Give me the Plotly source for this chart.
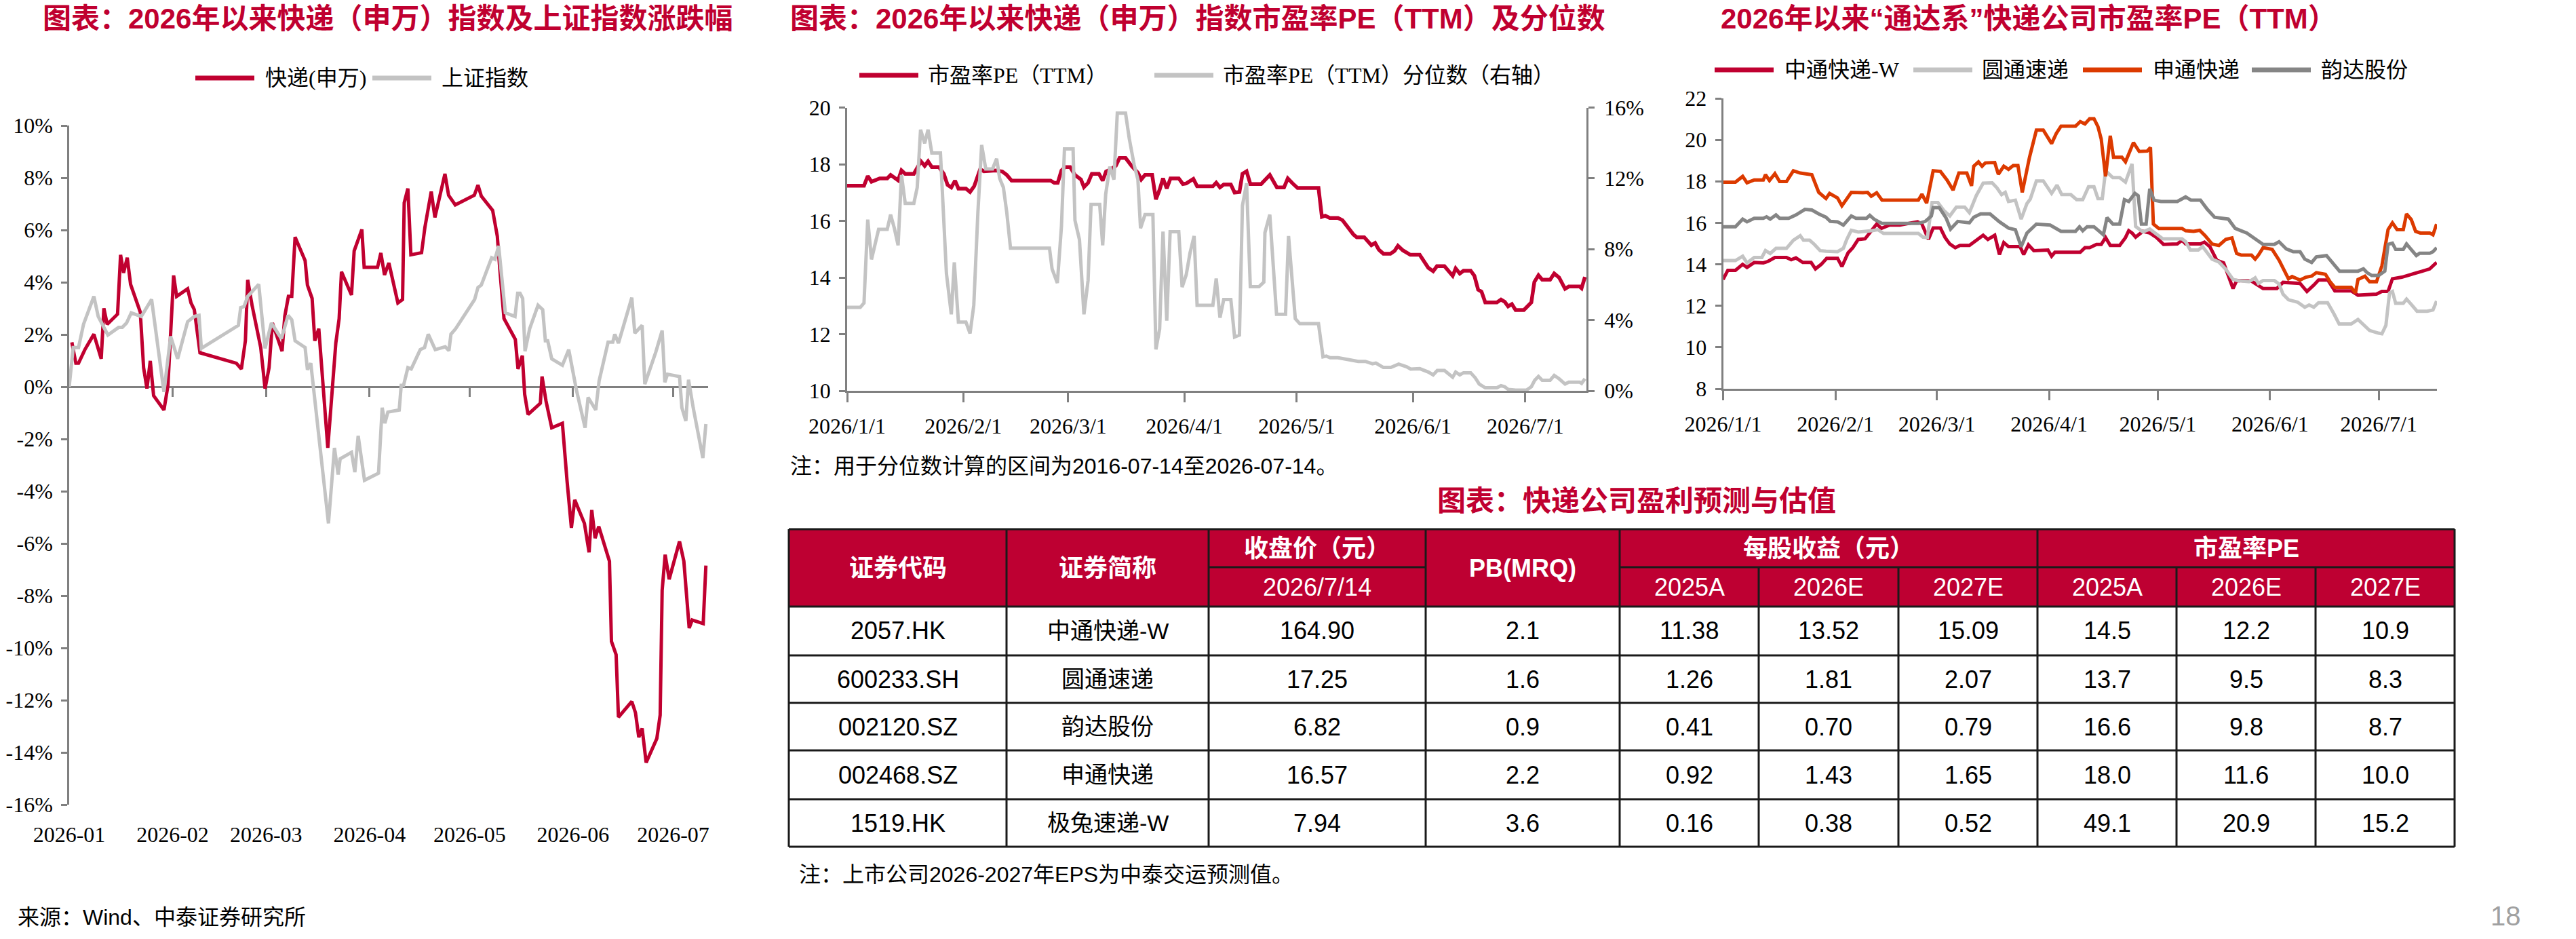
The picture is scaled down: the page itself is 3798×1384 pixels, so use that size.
import plotly.graph_objects as go
from datetime import datetime, timedelta

W, H = 3798, 1384
BASE = datetime(2026, 1, 1)

CRIMSON = "#C00030"
HEAD_RED = "#BE0032"
LIGHT_GRAY = "#C3C3C3"
ORANGE = "#DC3A00"
DARK_GRAY = "#858585"
AXIS = "#808080"
SERIF = "Liberation Serif, Noto Sans CJK SC, serif"
SANS = "Liberation Sans, Noto Sans CJK SC, sans-serif"

# ---------------- data: chart 1 (returns since start of 2026, %) ----------------
# x values are days since 2026-01-01
exp_days = [0.8, 2.0, 2.8, 4.7, 7.4, 9.6, 10.4, 11.4, 14.5, 15.4, 16.3, 17.4, 18.4, 19.6, 21.3, 22.3, 23.3,
            24.3, 25.3, 28.4, 29.6, 31.3, 32.2, 35.5, 36.5, 37.5, 39.2, 50.1, 51.6, 52.8, 53.5, 54.8, 56.2,
            57.4, 58.7, 59.9, 60.9, 63.8, 64.6, 65.7, 66.7, 67.7, 70.7, 71.4, 72.8, 73.6, 74.8, 77.5, 79.9,
            80.9, 81.6, 84.6, 85.4, 87.7, 88.4, 92.4, 93.4, 94.5, 95.8, 98.5, 99.9, 100.4, 101.5, 102.4,
            105.6, 106.6, 108.5, 109.6, 112.6, 113.7, 115.7, 121.4, 122.5, 123.5, 126.9, 128.3, 129.0, 130.3,
            133.7, 134.5, 135.8, 136.5, 137.5, 141.2, 141.7, 142.9, 144.6, 147.8, 149.2, 150.5, 151.5, 154.4,
            155.8, 156.6, 157.6, 158.7, 161.9, 162.5, 163.9, 164.6, 168.6, 169.7, 170.7, 171.7, 172.9, 176.1,
            177.1, 177.7, 178.6, 179.8, 182.9, 184.2, 185.8, 186.7, 190.0, 190.8]
exp_ret = [1.70, 0.90, 0.90, 1.42, 2.01, 1.07, 3.00, 2.39, 2.78, 5.05, 4.36, 4.94, 3.92, 3.46, 2.86, 0.73, -0.07,
           0.99, -0.34, -0.89, 0.05, 4.26, 3.46, 3.75, 3.21, 2.95, 1.30, 0.90, 0.68, 1.76, 4.09, 3.12, 2.18,
           1.50, -0.07, 0.73, 2.44, 1.36, 2.69, 3.46, 3.46, 5.73, 4.83, 3.89, 3.38, 1.76, 2.22, -2.34, 1.67,
           2.61, 4.40, 3.51, 5.20, 6.02, 4.57, 4.57, 5.12, 4.28, 4.74, 3.21, 3.34, 7.04, 7.59, 5.05,
           5.13, 6.10, 7.47, 6.48, 8.15, 7.33, 6.96, 7.33, 7.72, 7.30, 6.75, 5.76, 4.57, 2.61,
           1.81, 0.68, 1.19, -0.29, -1.06, -0.63, 0.39, -0.55, -1.57, -1.40, -3.61, -5.40, -4.33, -5.23,
           -6.34, -4.72, -5.80, -5.35, -6.68, -9.75, -10.26, -12.65, -12.05, -12.48, -13.42, -13.08, -14.39, -13.47,
           -12.57, -7.79, -6.43, -7.37, -5.92, -6.68, -9.24, -8.93, -9.07, -6.85]

sh_days = [0.0, 1.2, 2.8, 4.3, 7.4, 8.7, 11.6, 14.8, 15.9, 17.2, 18.6, 21.6, 24.7, 28.4, 30.4, 32.5, 35.5, 37.5,
           38.9, 39.6, 50.7, 51.4, 52.4, 53.5, 56.8, 58.7, 60.6, 63.6, 65.6, 66.7, 67.7, 70.7, 71.4, 72.4, 77.7,
           79.5, 80.6, 81.2, 84.6, 85.6, 86.6, 88.5, 92.7, 93.8, 94.6, 95.5, 98.9, 99.5, 100.2, 101.5, 102.5,
           105.2, 106.5, 107.6, 109.7, 112.7, 113.8, 114.4, 115.8, 121.5, 122.5, 123.5, 126.6, 127.6, 128.7,
           129.3, 130.7, 133.6, 134.4, 135.1, 135.9, 136.6, 138.0, 140.5, 141.9, 142.7, 143.4, 144.6, 147.8,
           149.7, 152.0, 154.6, 155.5, 157.8, 158.8, 161.5, 162.9, 163.5, 164.6, 168.6, 169.5, 171.7, 172.5,
           175.8, 177.7, 178.5, 179.3, 182.9, 183.6, 184.8, 185.6, 187.0, 189.9, 190.8]
sh_ret = [0.00, 1.50, 1.50, 2.39, 3.46, 2.69, 1.98, 2.27, 2.27, 2.44, 2.83, 2.69, 3.34, -0.20, 1.93, 1.07, 2.49, 2.69,
          2.73, 1.47, 2.35, 3.03, 3.07, 3.46, 3.92, 1.47, 2.44, 1.84, 2.73, 2.56, 1.76, 1.50, 0.65, 0.90, -5.23,
          -2.34, -3.36, -2.76, -2.51, -3.27, -1.88, -3.58, -3.31, -0.80, -1.40, -0.97, -0.89, 0.05, 0.05, 0.73, 0.68,
          1.42, 1.50, 2.01, 1.42, 1.53, 1.38, 2.01, 2.22, 3.34, 3.80, 3.89, 4.94, 4.88, 5.39,
          4.57, 2.83, 2.69, 3.58, 3.58, 3.38, 1.36, 2.22, 3.12, 2.95, 1.76, 1.76, 1.07, 0.82,
          1.42, -0.12, -1.57, -0.41, -0.89, 0.22, 1.71, 1.71, 2.01, 1.67, 3.41, 2.05, 2.35, 0.10,
          1.33, 2.15, 0.17, 0.48, 0.39, -0.80, -1.31, 0.27, -0.80, -2.73, -1.43]

# ---------------- data: chart 2 (PE TTM and percentile) ----------------
pe_days = [0.0, 4.5, 5.5, 6.5, 8.7, 10.7, 11.6, 13.6, 14.5, 15.5, 17.8, 19.7, 20.7, 21.6, 22.6, 24.5, 25.8, 26.8,
           27.8, 28.8, 29.7, 31.7, 32.8, 33.9, 35.5, 36.5, 39.7, 41.4, 42.6, 43.9, 54.3, 55.3, 56.2, 57.2, 58.2,
           59.5, 60.8, 62.4, 63.2, 64.3, 65.3, 67.2, 68.2, 69.1, 70.4, 71.7, 72.7, 74.3, 75.9, 77.6, 78.5, 79.5,
           81.4, 82.4, 83.4, 84.3, 85.3, 86.3, 88.5, 89.6, 90.5, 92.4, 93.4, 97.6, 98.5, 99.5, 100.5, 102.4,
           103.4, 104.7, 105.5, 106.6, 107.6, 110.5, 112.8, 114.7, 116.6, 117.6, 118.9, 120.2, 125.8, 126.7,
           127.6, 128.8, 131.0, 132.2, 135.1, 136.0, 138.0, 139.9, 140.9, 141.9, 143.1, 145.0, 146.1, 147.0,
           148.3, 150.3, 152.8, 153.8, 155.1, 156.4, 157.4, 159.4, 161.6, 162.4, 163.5, 164.5, 166.4, 167.4,
           168.4, 169.3, 170.3, 173.4, 174.5, 175.5, 176.4, 177.4, 178.4, 180.6, 182.6, 183.4, 184.5, 185.5,
           187.6, 188.7, 190.0, 191.6, 192.6, 195.5, 196.0, 196.9]
pe_vals = [17.24, 17.24, 17.58, 17.38, 17.50, 17.50, 17.62, 17.43, 17.78, 17.66, 17.66, 18.10, 17.94, 18.10, 17.90,
           17.90, 17.66, 17.27, 17.18, 17.42, 17.14, 17.14, 17.02, 17.22, 17.82, 17.75, 17.78, 17.74, 17.62, 17.42,
           17.42, 17.34, 17.34, 17.78, 17.90, 17.90, 17.62, 17.46, 17.19, 17.34, 17.66, 17.66, 17.42, 17.74, 17.82,
           17.94, 18.22, 18.22, 17.94, 17.70, 17.46, 17.62, 17.62, 16.76, 17.10, 17.50, 17.14, 17.50, 17.50, 17.30,
           17.32, 17.48, 17.22, 17.22, 17.35, 17.18, 17.28, 17.28, 17.00, 17.02, 17.66, 17.75, 17.30, 17.30, 17.62,
           17.18, 17.18, 17.50, 17.32, 17.16, 17.16, 16.14, 16.18, 16.10, 16.10, 16.02, 15.52, 15.42, 15.42, 15.14,
           15.22, 14.98, 14.84, 14.84, 14.94, 15.12, 14.96, 14.80, 14.80, 14.58, 14.34, 14.22, 14.40, 14.40, 14.06,
           14.32, 14.14, 14.24, 14.24, 14.06, 13.57, 13.50, 13.12, 13.12, 13.22, 13.14, 12.98, 13.06, 12.85, 12.85,
           13.12, 13.84, 14.08, 13.92, 13.92, 14.14, 14.00, 13.60, 13.68, 13.68, 13.62, 14.02]

pct_days = [0.0, 3.5, 4.5, 5.5, 6.5, 8.4, 10.7, 11.6, 12.6, 13.6, 14.5, 15.5, 17.8, 18.7, 19.6, 20.7, 21.6, 22.6,
            24.9, 26.5, 27.8, 28.6, 29.7, 31.7, 32.8, 33.8, 34.9, 35.9, 37.0, 38.8, 39.9, 40.7, 41.7, 42.6, 43.6,
            54.0, 54.7, 56.1, 57.2, 58.0, 60.3, 60.8, 62.0, 63.2, 64.3, 65.1, 67.4, 68.2, 69.0, 70.1, 71.2, 72.1,
            74.3, 75.3, 76.6, 77.6, 78.3, 79.5, 81.6, 82.4, 83.4, 84.3, 85.3, 86.2, 88.5, 89.4, 90.5, 91.5, 92.6,
            93.4, 97.6, 98.5, 99.5, 100.5, 102.4, 103.4, 104.7, 105.5, 106.6, 107.6, 109.9, 111.2, 111.5, 112.8,
            114.6, 117.0, 117.8, 119.6, 120.8, 125.8, 127.0, 127.9, 128.9, 131.0, 133.5, 136.4, 138.3, 140.2,
            141.1, 143.1, 145.1, 147.2, 149.3, 150.4, 152.8, 155.1, 156.4, 157.5, 159.4, 161.6, 162.4, 163.5,
            164.5, 166.4, 167.6, 168.7, 170.3, 173.4, 174.5, 175.5, 176.4, 178.4, 181.3, 182.6, 183.5, 184.5,
            185.5, 187.6, 188.7, 190.0, 191.6, 192.6, 195.5, 196.0, 196.9]
pct_vals = [4.71, 4.71, 4.96, 9.67, 7.42, 9.12, 9.12, 9.95, 9.18, 8.22, 12.19, 10.59, 10.59, 11.48, 14.75, 13.98,
            14.75, 13.43, 13.43, 6.63, 4.32, 7.26, 3.88, 3.88, 3.24, 4.83, 10.08, 13.89, 12.53, 12.53, 13.11, 12.00,
            11.49, 10.08, 8.06, 8.06, 6.88, 6.09, 9.31, 13.66, 13.66, 9.63, 8.54, 4.32, 6.24, 10.53, 10.53, 8.22,
            11.10, 12.66, 11.93, 15.68, 15.68, 14.24, 12.76, 11.93, 9.18, 9.95, 9.95, 2.34, 3.49, 8.99, 3.96, 8.99,
            8.99, 5.86, 6.56, 7.78, 8.74, 4.83, 4.83, 6.34, 4.13, 5.15, 5.15, 3.04, 3.15, 10.46, 11.72, 5.88,
            5.88, 6.14, 8.93, 9.95, 4.32, 4.32, 8.74, 4.07, 3.79, 3.79, 1.92, 1.96, 1.87, 1.87, 1.77, 1.66,
            1.66, 1.53, 1.57, 1.32, 1.32, 1.51, 1.36, 1.23, 1.25, 1.06, 0.90, 1.15, 1.15, 0.77, 1.06, 0.90,
            1.02, 1.02, 0.74, 0.38, 0.17, 0.17, 0.29, 0.23, 0.08, 0.04, 0.04, 0.23, 0.59, 0.81, 0.59, 0.59,
            0.87, 0.68, 0.38, 0.49, 0.49, 0.42, 0.68]

# ---------------- data: chart 3 (PE TTM of the four companies) ----------------
zto_days = [0.0, 1.3, 3.4, 5.4, 6.6, 8.6, 11.1, 12.4, 14.3, 17.5, 18.8, 20.1, 22.0, 24.3, 25.5, 27.1, 28.6, 31.6,
            32.8, 34.5, 35.8, 37.3, 39.2, 41.1, 42.4, 43.7, 46.0, 48.8, 53.7, 54.9, 56.7, 58.0, 60.0, 61.3, 62.6,
            64.1, 65.4, 68.0, 69.2, 70.5, 71.8, 73.1, 75.0, 76.3, 77.5, 78.8, 82.0, 83.0, 84.3, 85.8, 88.4, 89.7,
            90.7, 91.6, 98.6, 99.9, 101.2, 103.1, 104.4, 105.6, 106.9, 109.5, 111.1, 112.0, 112.9, 113.9, 115.9,
            117.8, 119.7, 121.6, 125.4, 126.7, 127.7, 131.8, 132.9, 134.4, 136.3, 138.2, 140.8, 141.8, 145.9,
            147.2, 149.1, 152.9, 154.6, 159.3, 161.2, 163.1, 164.4, 167.0, 168.9, 173.4, 175.3, 180.4, 181.9,
            183.6, 184.8, 187.4, 189.3, 191.2, 193.1, 195.1, 197.0]
zto_pe = [13.27, 13.71, 13.71, 14.00, 13.85, 14.09, 14.07, 14.14, 14.33, 14.33, 14.22, 14.31, 14.09, 14.09, 13.78,
          14.00, 14.29, 14.29, 13.89, 14.55, 14.80, 15.20, 15.23, 15.64, 15.94, 15.73, 15.89, 15.89, 16.05, 15.94,
          15.20, 15.75, 15.75, 15.29, 14.98, 14.80, 14.91, 14.91, 15.07, 15.23, 15.40, 15.20, 15.40, 14.47, 15.05,
          14.85, 14.85, 14.47, 14.94, 14.66, 14.66, 14.69, 14.39, 14.58, 14.58, 14.80, 14.80, 14.96, 14.96, 15.29,
          14.91, 14.91, 15.29, 15.62, 15.51, 15.31, 15.59, 15.51, 15.29, 14.96, 14.98, 15.16, 14.98, 14.98, 15.07,
          14.85, 14.20, 14.07, 12.83, 13.22, 13.19, 13.05, 12.83, 12.83, 13.13, 13.08, 12.69, 13.00, 13.24, 13.24,
          12.72, 12.72, 12.51, 12.56, 12.69, 12.69, 13.30, 13.38, 13.49, 13.56, 13.67, 13.78, 14.09]

yto_days = [0.0, 3.4, 5.4, 6.6, 8.6, 10.7, 11.7, 13.0, 14.6, 17.5, 19.4, 21.3, 22.2, 23.9, 25.2, 26.8, 28.4, 31.6,
            33.2, 34.1, 35.4, 37.3, 41.1, 42.7, 44.3, 53.9, 55.2, 56.4, 57.7, 59.3, 60.9, 62.6, 64.4, 66.7, 68.0,
            69.9, 71.8, 74.3, 75.6, 76.9, 77.9, 78.8, 80.7, 82.3, 83.9, 84.8, 86.5, 88.4, 90.7, 92.2, 93.5, 96.0,
            97.6, 99.3, 100.9, 102.4, 103.5, 104.7, 105.6, 107.6, 109.5, 111.1, 112.9, 113.9, 115.9, 117.8, 119.7,
            121.4, 126.7, 127.7, 129.0, 131.2, 132.4, 133.7, 135.0, 136.9, 138.8, 140.8, 142.0, 145.2, 146.9,
            147.8, 149.1, 152.2, 153.5, 154.6, 156.1, 158.6, 160.6, 161.8, 163.1, 164.4, 166.9, 168.6, 170.1,
            173.4, 175.3, 176.8, 178.5, 181.0, 181.9, 183.0, 184.0, 184.8, 185.7, 187.8, 188.7, 190.0, 191.6,
            194.4, 196.0, 197.0]
yto_pe = [14.18, 14.18, 14.39, 14.07, 14.33, 14.33, 14.66, 14.52, 14.77, 14.77, 15.16, 15.38, 15.16, 15.16, 14.96,
          14.66, 14.63, 14.61, 14.77, 15.18, 15.64, 15.56, 15.62, 15.67, 15.49, 15.49, 15.31, 15.29, 16.98, 16.98,
          16.60, 16.33, 16.76, 16.76, 16.49, 17.31, 17.91, 17.93, 17.69, 17.36, 17.47, 17.03, 17.09, 16.18, 16.93,
          17.14, 18.02, 18.02, 17.42, 17.82, 17.36, 17.36, 17.12, 17.12, 17.74, 17.74, 17.17, 17.17, 18.51, 18.18,
          18.18, 17.96, 18.84, 15.83, 15.56, 15.70, 15.45, 15.23, 15.23, 15.09, 14.69, 14.69, 14.85, 14.58, 14.25,
          14.11, 13.76, 13.27, 13.22, 13.16, 13.35, 13.08, 13.22, 13.22, 13.05, 12.56, 12.29, 12.18, 11.93, 12.04,
          11.93, 12.15, 12.15, 11.63, 11.12, 11.12, 11.34, 11.09, 10.81, 10.68, 10.65, 11.06, 12.62, 12.69, 12.12,
          12.12, 12.32, 12.07, 11.74, 11.74, 11.80, 12.23]

sto_days = [0.0, 3.4, 5.4, 6.6, 8.6, 11.1, 11.7, 12.8, 14.3, 15.6, 17.5, 19.4, 21.3, 24.5, 26.4, 28.4, 29.4, 31.6,
            32.8, 35.4, 38.6, 39.9, 40.9, 42.4, 43.9, 53.9, 54.9, 56.2, 58.0, 60.0, 61.8, 63.5, 65.1, 67.3, 68.6,
            69.2, 70.5, 71.5, 72.4, 75.0, 76.0, 77.5, 78.8, 80.1, 81.4, 82.6, 84.6, 86.5, 88.4, 90.7, 92.0, 93.3,
            97.3, 98.6, 99.9, 101.2, 102.4, 103.5, 104.4, 105.6, 106.9, 107.8, 110.1, 111.1, 113.3, 114.9, 117.1,
            118.0, 118.8, 120.3, 126.7, 127.7, 129.9, 131.6, 133.1, 135.0, 136.9, 138.8, 140.5, 141.8, 143.1,
            145.9, 146.9, 147.8, 149.1, 151.6, 153.5, 156.1, 157.1, 159.3, 160.9, 162.5, 163.8, 166.3, 167.6,
            168.9, 173.4, 174.6, 175.3, 177.2, 178.5, 180.4, 181.9, 183.6, 184.8, 186.1, 187.8, 188.7, 190.0,
            191.2, 192.5, 195.1, 196.0, 197.0]
sto_pe = [17.96, 17.96, 18.24, 17.93, 18.07, 18.07, 18.32, 18.04, 18.37, 17.99, 17.99, 18.51, 18.40, 18.32, 17.47,
          17.17, 17.42, 17.20, 16.82, 17.47, 17.45, 17.47, 17.28, 17.45, 17.09, 17.09, 17.38, 16.95, 18.51, 18.48,
          18.07, 17.58, 18.40, 18.40, 17.78, 18.73, 18.94, 18.73, 18.89, 18.91, 18.34, 18.73, 18.58, 18.76, 18.76,
          17.47, 19.16, 20.47, 20.47, 19.82, 20.31, 20.66, 20.66, 20.88, 20.77, 21.02, 21.02, 20.64, 20.04, 18.24,
          20.20, 19.16, 19.16, 18.94, 19.87, 19.44, 19.46, 19.63, 15.94, 15.73, 15.73, 15.62, 15.59, 15.64, 15.38,
          14.98, 14.91, 15.20, 15.27, 14.52, 14.44, 14.44, 14.25, 14.44, 14.80, 14.72, 14.20, 13.30, 13.41, 13.24,
          13.38, 13.43, 13.60, 13.52, 13.16, 12.89, 12.89, 12.62, 13.27, 13.43, 13.16, 13.16, 13.93, 15.67, 16.00,
          15.67, 15.67, 16.43, 16.16, 15.59, 15.51, 15.51, 15.42, 15.94]

yd_days = [0.0, 3.4, 5.4, 6.6, 8.6, 11.1, 12.0, 13.0, 14.6, 15.6, 18.1, 20.1, 22.6, 24.5, 26.4, 28.4, 29.6, 31.6,
           33.2, 35.4, 36.7, 39.6, 40.5, 41.8, 43.9, 53.9, 55.8, 57.5, 58.0, 59.7, 61.6, 62.8, 64.8, 68.0, 69.2,
           71.1, 73.7, 76.3, 78.8, 80.7, 82.3, 83.9, 86.5, 90.3, 93.3, 97.3, 98.4, 99.3, 100.5, 102.4, 103.7,
           105.0, 106.0, 107.6, 109.5, 110.8, 112.0, 113.7, 114.6, 115.5, 116.8, 117.8, 119.0, 120.9, 125.4,
           127.7, 129.2, 131.8, 133.7, 135.7, 139.5, 141.4, 144.6, 147.2, 149.1, 152.2, 153.5, 155.5, 157.4,
           159.3, 160.6, 162.5, 163.8, 166.6, 168.2, 170.2, 175.3, 176.8, 177.8, 179.1, 181.0, 182.7, 183.6,
           184.8, 185.7, 187.8, 188.7, 190.0, 191.4, 192.3, 195.1, 196.0, 197.0]
yd_pe = [15.81, 15.81, 16.18, 16.05, 16.22, 16.22, 16.29, 16.18, 16.38, 16.22, 16.22, 16.38, 16.65, 16.62, 16.43,
         16.27, 16.07, 16.05, 15.89, 16.33, 16.22, 16.22, 16.36, 16.16, 15.97, 15.97, 16.07, 16.33, 16.73, 16.73,
         16.22, 15.70, 16.07, 16.00, 16.27, 16.43, 16.43, 16.05, 15.75, 15.67, 14.85, 15.51, 15.94, 15.89, 15.59,
         15.59, 15.81, 15.62, 15.81, 15.81, 15.62, 15.42, 16.25, 15.94, 15.94, 17.12, 17.03, 17.42, 17.31, 15.94,
         15.94, 17.64, 17.09, 17.03, 17.03, 17.25, 17.09, 17.09, 16.65, 16.27, 16.18, 15.73, 15.51, 15.20, 14.96,
         14.96, 15.09, 14.74, 14.61, 14.61, 14.25, 14.09, 14.36, 14.42, 14.09, 13.67, 13.67, 13.78, 13.60, 13.46,
         13.46, 13.67, 14.96, 15.02, 14.72, 14.72, 14.98, 14.72, 14.42, 14.53, 14.53, 14.61, 14.80]

# ---------------- data: table ----------------
codes = ["2057.HK", "600233.SH", "002120.SZ", "002468.SZ", "1519.HK"]
names = ["中通快递-W", "圆通速递", "韵达股份", "申通快递", "极兔速递-W"]
close_px = [164.90, 17.25, 6.82, 16.57, 7.94]
pb_mrq = [2.1, 1.6, 0.9, 2.2, 3.6]
eps_2025a = [11.38, 1.26, 0.41, 0.92, 0.16]
eps_2026e = [13.52, 1.81, 0.70, 1.43, 0.38]
eps_2027e = [15.09, 2.07, 0.79, 1.65, 0.52]
pe_2025a = [14.5, 13.7, 16.6, 18.0, 49.1]
pe_2026e = [12.2, 9.5, 9.8, 11.6, 20.9]
pe_2027e = [10.9, 8.3, 8.7, 10.0, 15.2]
year_cols = ["2025A", "2026E", "2027E"]

# ---------------- tick labels ----------------
month_starts = ["2026-01-01", "2026-02-01", "2026-03-01", "2026-04-01", "2026-05-01", "2026-06-01", "2026-07-01"]
dash_labels = ["2026-01", "2026-02", "2026-03", "2026-04", "2026-05", "2026-06", "2026-07"]
slash_labels = ["2026/1/1", "2026/2/1", "2026/3/1", "2026/4/1", "2026/5/1", "2026/6/1", "2026/7/1"]
ret_ticks = [10, 8, 6, 4, 2, 0, -2, -4, -6, -8, -10, -12, -14, -16]
ret_labels = ["10%", "8%", "6%", "4%", "2%", "0%", "-2%", "-4%", "-6%", "-8%", "-10%", "-12%", "-14%", "-16%"]
pe_ticks = [10, 12, 14, 16, 18, 20]
pct_ticks = [0, 4, 8, 12, 16]
pct_labels = ["0%", "4%", "8%", "12%", "16%"]
co_ticks = [8, 10, 12, 14, 16, 18, 20, 22]


def dates(days):
    return [(BASE + timedelta(days=d)).strftime("%Y-%m-%d %H:%M:%S") for d in days]


def dstr(d):
    return (BASE + timedelta(days=d)).strftime("%Y-%m-%d %H:%M:%S")


def X(p):
    return p / W


def Y(p):
    return 1 - p / H


fig = go.Figure()
ln = dict(mode="lines", showlegend=False, hoverinfo="skip")
fig.add_trace(go.Scatter(x=dates(exp_days), y=exp_ret, name="快递(申万)", line=dict(color=CRIMSON, width=5),
                         xaxis="x", yaxis="y", **ln))
fig.add_trace(go.Scatter(x=dates(sh_days), y=sh_ret, name="上证指数", line=dict(color=LIGHT_GRAY, width=5),
                         xaxis="x2", yaxis="y", **ln))
fig.add_trace(go.Scatter(x=dates(pe_days), y=pe_vals, name="市盈率PE（TTM）", line=dict(color=CRIMSON, width=5.5),
                         xaxis="x3", yaxis="y3", **ln))
fig.add_trace(go.Scatter(x=dates(pct_days), y=pct_vals, name="分位数", line=dict(color=LIGHT_GRAY, width=5),
                         xaxis="x3", yaxis="y4", **ln))
co_series = [("中通快递-W", zto_days, zto_pe, CRIMSON), ("圆通速递", yto_days, yto_pe, LIGHT_GRAY),
             ("申通快递", sto_days, sto_pe, ORANGE), ("韵达股份", yd_days, yd_pe, DARK_GRAY)]
for nm, dd, vv, col in co_series:
    fig.add_trace(go.Scatter(x=dates(dd), y=vv, name=nm, line=dict(color=col, width=5),
                             xaxis="x4", yaxis="y5", **ln))

tickfont = dict(family=SERIF, size=32, color="black")
axcommon = dict(showgrid=False, zeroline=False, tickfont=tickfont, linecolor=AXIS, linewidth=2.5,
                tickcolor=AXIS, tickwidth=2.5, automargin=False)
axnoline = {k: v for k, v in axcommon.items() if k not in ("linecolor", "linewidth")}

# chart 1 geometry
c1_dom = [X(102), X(102 + 191.5 * 4.92)]
c1_range = [dstr(0), dstr(191.5)]
c1_ydom = [Y(1186), Y(185)]
zero_pos = c1_ydom[0] + (0 - (-16)) / 26 * (c1_ydom[1] - c1_ydom[0])

fig.update_layout(
    xaxis=dict(domain=c1_dom, type="date", range=c1_range, anchor="y", showline=False, ticks="",
               tickvals=month_starts, ticktext=dash_labels, ticklabelstandoff=22, **axnoline),
    xaxis2=dict(domain=c1_dom, type="date", range=c1_range, overlaying="x", anchor="free", position=zero_pos,
                showline=True, ticks="outside", ticklen=13, tickvals=month_starts[1:], showticklabels=False,
                layer="below traces", **axcommon),
    yaxis=dict(domain=c1_ydom, range=[-16, 10], anchor="x", showline=True, ticks="outside", ticklen=9,
               tickvals=ret_ticks, ticktext=ret_labels, ticklabelstandoff=6, **axcommon),
    xaxis3=dict(domain=[X(1249), X(2339)], type="date", range=[dstr(0), dstr(197.3)], anchor="y3",
                showline=True, ticks="outside", ticklen=14, tickvals=month_starts, ticktext=slash_labels,
                ticklabelstandoff=8, **axcommon),
    yaxis3=dict(domain=[Y(576), Y(158.5)], range=[10, 20], anchor="x3", showline=True, ticks="outside",
                ticklen=9, tickvals=pe_ticks, ticklabelstandoff=6, **axcommon),
    yaxis4=dict(domain=[Y(576), Y(158.5)], range=[0, 16], anchor="x3", overlaying="y3", side="right",
                showline=True, ticks="outside", ticklen=9, tickvals=pct_ticks, ticktext=pct_labels,
                ticklabelstandoff=8, **axcommon),
    xaxis4=dict(domain=[X(2540.5), X(3593)], type="date", range=[dstr(0), dstr(197.1)], anchor="y5",
                showline=True, ticks="outside", ticklen=14, tickvals=month_starts, ticktext=slash_labels,
                ticklabelstandoff=8, **axcommon),
    yaxis5=dict(domain=[Y(573), Y(145)], range=[8, 22], anchor="x4", showline=True, ticks="outside",
                ticklen=9, tickvals=co_ticks, ticklabelstandoff=6, **axcommon),
)

shapes = []
annotations = []


def text(x, y, s, size=32, color="black", family=SERIF, xanchor="left", bold=False):
    annotations.append(dict(x=X(x), y=Y(y), xref="paper", yref="paper", text=("<b>%s</b>" % s) if bold else s,
                            showarrow=False, xanchor=xanchor, yanchor="middle",
                            font=dict(family=family, size=size, color=color)))


def hline(x0, x1, y, color, width):
    shapes.append(dict(type="line", xref="paper", yref="paper", x0=X(x0), x1=X(x1), y0=Y(y), y1=Y(y),
                       line=dict(color=color, width=width)))


def vline(x, y0, y1, color, width):
    shapes.append(dict(type="line", xref="paper", yref="paper", x0=X(x), x1=X(x), y0=Y(y0), y1=Y(y1),
                       line=dict(color=color, width=width)))


# titles
text(61, 28, "图表：2026年以来快递（申万）指数及上证指数涨跌幅", 42, CRIMSON, SANS, bold=True)
text(1163, 28, "图表：2026年以来快递（申万）指数市盈率PE（TTM）及分位数", 42, CRIMSON, SANS, bold=True)
text(2535, 28, "2026年以来“通达系”快递公司市盈率PE（TTM）", 42, CRIMSON, SANS, bold=True)
text(2413, 738, "图表：快递公司盈利预测与估值", 42, CRIMSON, SANS, xanchor="center", bold=True)

# legends
legend_items = [
    (288, 375, 389, 115, CRIMSON, "快递(申万)"), (549, 636, 649, 115, LIGHT_GRAY, "上证指数"),
    (1267, 1354, 1366, 111, CRIMSON, "市盈率PE（TTM）"), (1702, 1789, 1801, 111, LIGHT_GRAY, "市盈率PE（TTM）分位数（右轴）"),
    (2528, 2615, 2629, 103, CRIMSON, "中通快递-W"), (2821, 2908, 2920, 103, LIGHT_GRAY, "圆通速递"),
    (3071, 3158, 3172, 103, ORANGE, "申通快递"), (3320, 3407, 3420, 103, DARK_GRAY, "韵达股份"),
]
for x0, x1, tx, yy, col, lab in legend_items:
    hline(x0, x1, yy, col, 7)
    text(tx, yy, lab, 32, "black", SERIF)

# notes
text(1163, 687, "注：用于分位数计算的区间为2016-07-14至2026-07-14。", 32, "black", SANS)
text(1176, 1289, "注：上市公司2026-2027年EPS为中泰交运预测值。", 32, "black", SANS)
text(24, 1352, "来源：Wind、中泰证券研究所", 32, "black", SANS)
text(3694, 1350, "18", 40, "#A0A0A0", SANS, xanchor="center")

# table
col_x = [1163, 1484, 1782, 2102, 2388, 2593, 2799, 3004, 3209, 3414, 3619]
row_y = [780, 836, 894, 966, 1036, 1106, 1178, 1248]
shapes.append(dict(type="rect", xref="paper", yref="paper", x0=X(col_x[0]), x1=X(col_x[-1]), y0=Y(row_y[0]),
                   y1=Y(row_y[2]), fillcolor=HEAD_RED, line=dict(width=0), layer="below"))
LC = "#1A1A1A"
for yy in [row_y[0]] + row_y[2:]:
    hline(col_x[0], col_x[-1], yy, LC, 3)
hline(col_x[2], col_x[3], row_y[1], LC, 3)
hline(col_x[4], col_x[-1], row_y[1], LC, 3)
for xx in [col_x[0], col_x[1], col_x[2], col_x[3], col_x[4], col_x[7], col_x[10]]:
    vline(xx, row_y[0], row_y[-1], LC, 3)
for xx in [col_x[5], col_x[6], col_x[8], col_x[9]]:
    vline(xx, row_y[1], row_y[-1], LC, 3)


def cx(i, j=None):
    j = i + 1 if j is None else j
    return (col_x[i] + col_x[j]) / 2


HF = 36
mid_all = (row_y[0] + row_y[2]) / 2
top_mid = (row_y[0] + row_y[1]) / 2
bot_mid = (row_y[1] + row_y[2]) / 2
text(cx(0), mid_all, "证券代码", HF, "white", SANS, "center", True)
text(cx(1), mid_all, "证券简称", HF, "white", SANS, "center", True)
text(cx(2), top_mid, "收盘价（元）", HF, "white", SANS, "center", True)
text(cx(2), bot_mid, "2026/7/14", HF, "white", SANS, "center")
text(cx(3), mid_all, "PB(MRQ)", HF, "white", SANS, "center", True)
text(cx(4, 7), top_mid, "每股收益（元）", HF, "white", SANS, "center", True)
text(cx(7, 10), top_mid, "市盈率PE", HF, "white", SANS, "center", True)
for k, yc in enumerate(year_cols):
    text(cx(4 + k), bot_mid, yc, HF, "white", SANS, "center")
    text(cx(7 + k), bot_mid, yc, HF, "white", SANS, "center")

body_cols = [
    (codes, None), (names, None), (close_px, 2), (pb_mrq, 1), (eps_2025a, 2), (eps_2026e, 2), (eps_2027e, 2),
    (pe_2025a, 1), (pe_2026e, 1), (pe_2027e, 1),
]
for r in range(5):
    yc = (row_y[2 + r] + row_y[3 + r]) / 2
    for c, (arr, dec) in enumerate(body_cols):
        v = arr[r]
        s = v if dec is None else f"{v:.{dec}f}"
        text(cx(c), yc, s, 34 if c == 1 else 36, "black", SANS, "center")

fig.update_layout(
    width=W, height=H, autosize=False, margin=dict(l=0, r=0, t=0, b=0, autoexpand=False),
    paper_bgcolor="white", plot_bgcolor="rgba(0,0,0,0)", showlegend=False,
    shapes=shapes, annotations=annotations,
)

fig.write_html("out.html")
